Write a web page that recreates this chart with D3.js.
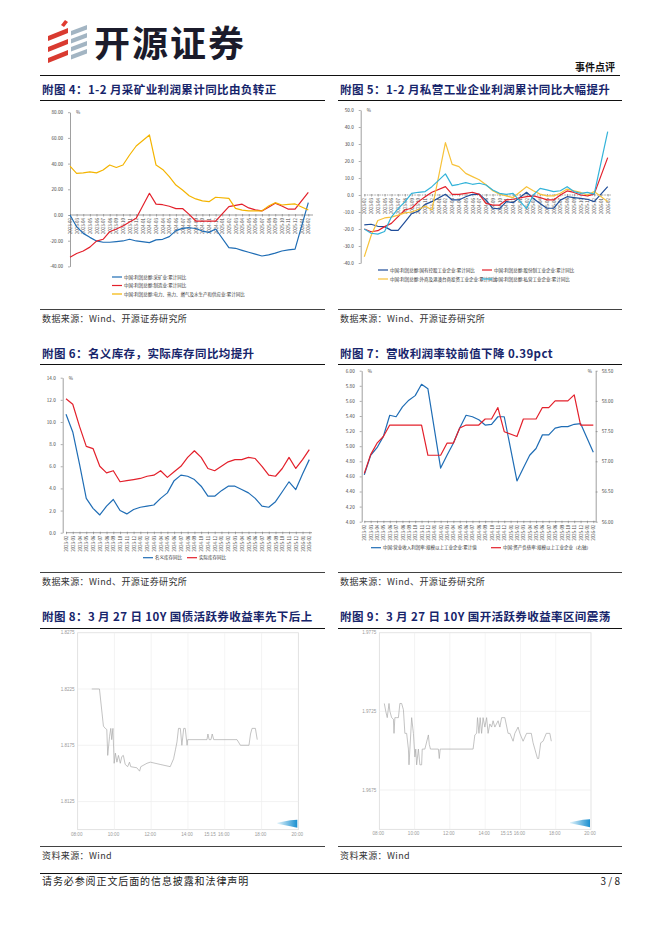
<!DOCTYPE html>
<html><head><meta charset="utf-8">
<script src="https://cdn.jsdelivr.net/npm/d3@7"></script>
<style>body{margin:0;background:#fff}svg{display:block}</style>
</head><body>
<svg id="page" width="662" height="936"></svg>
<script>
// ---------------- DATA ----------------
const months = ["2023-02","2023-03","2023-04","2023-05","2023-06","2023-07","2023-08","2023-09","2023-10","2023-11","2023-12","2024-01","2024-02","2024-03","2024-04","2024-05","2024-06","2024-07","2024-08","2024-09","2024-10","2024-11","2024-12","2025-01","2025-02","2025-03","2025-04","2025-05","2025-06","2025-07","2025-08","2025-09","2025-10","2025-11","2025-12","2026-01","2026-02"];

// Fig 4 (%), January has no data
const miningProfit = [0,-9.1,-14.3,-17.4,-20.2,-21.2,-21.2,-20.7,-20.2,-18.9,-20.2,null,-21.5,-19.4,-18.9,-16.8,-12.2,-10.4,-9.9,-10.5,-12.5,-13.5,-10.9,null,-25.4,-25.9,-27.5,-29,-30.5,-31.9,-31,-29.7,-28,-27.2,-26.5,null,9.6];
const manufProfit = [-32.9,-30,-28,-25,-20.3,-18.9,-13,-10.9,-8.6,-5.5,-2.6,null,16.9,8.5,8,6.8,5,5,0.5,-4.7,-4.7,-4.7,-4.7,null,6.5,7.5,8.4,5.5,4,3.2,6,9.1,7,4.5,4.5,null,17.6];
const utilityProfit = [38.1,32.4,32.8,33.6,32.8,35,38.9,37,38.9,46.7,53.7,null,62.3,38.9,35.5,29.8,23.3,19.4,15,12.5,11,10.4,13.8,null,13,5.2,3.8,3.2,3.2,3.2,7,9.6,7.8,8.2,8.6,null,3.9];
const fig4Ticks = [-40,-20,0,20,40,60,80];

// Fig 5 (%)
const stateProfit = [-17.6,-17.2,-18.4,-18.6,-20.8,-20.8,-16,-11,-9.4,-5.5,-3.9,null,0.4,-2.9,-2.9,-1,0.4,0.5,-3,-7.8,-8.2,-3.9,-4.5,null,1.6,-2,-5,-7.8,-7.8,-3,-1,-1.5,-2,-2.5,-3.9,null,4.9];
const jointProfit = [-20,-21.6,-21,-18.6,-16.7,-12.7,-8.8,-7.8,-3.9,-1,1.6,null,4.9,0.4,0.4,1,1.6,0.4,-4.9,-5.9,-5.9,-2.9,-2.5,null,-1,-0.5,-1.5,-2.9,-2.9,0,2.4,1.5,0,-0.5,0.5,null,22];
const foreignProfit = [-36.3,-24,-15,-13.5,-13,-11.8,-10.5,-10,-8.5,-6.5,-8.8,null,30.8,18,16.7,12.7,10.8,9,6,2.5,0.5,-0.5,-1.5,null,4.9,2.5,0.5,-0.5,-0.5,1,3.5,2.5,1.5,0,2,null,-3.9];
const privateProfit = [-20,-22.5,-23,-21.5,-13,-8,-4,1,1.6,2,4.9,null,12.4,5.5,6.3,7.3,6.3,6.9,5.9,2.9,1,0.4,1,null,-8,0,3.9,3,2,2.5,4.9,2,1,1.5,0.5,null,37.3];
const fig5Ticks = [-40,-30,-20,-10,0,10,20,30,40,50];

// Fig 6 (%)
const nominalInv = [10.7,9.1,6.2,3.1,2.2,1.6,2.4,3.0,2.0,1.7,2.1,2.3,2.4,2.5,3.1,3.6,4.7,5.2,5.1,4.8,4.2,3.3,3.3,3.8,4.2,4.2,3.9,3.6,3.1,2.4,2.3,2.8,3.7,4.6,3.9,5.3,6.6];
const realInv = [12.1,11.6,9.6,7.8,7.6,6.0,5.4,5.6,4.6,4.7,4.8,4.9,5.1,5.2,5.6,5.0,5.5,6.0,6.8,7.4,6.8,5.8,5.6,6.0,6.4,6.6,6.6,6.8,6.7,6.0,5.2,5.1,5.8,6.8,5.8,6.6,7.5];
const fig6Ticks = [0,2,4,6,8,10,12,14];

// Fig 7
const profitMargin = [4.62,4.88,4.98,5.13,5.41,5.39,5.52,5.61,5.67,5.82,5.76,null,4.71,4.88,5.04,5.24,5.41,5.39,5.35,5.28,5.29,5.39,5.39,null,4.54,4.71,4.88,4.97,5.15,5.15,5.24,5.26,5.26,5.29,5.30,null,4.92];
const debtRatio = [56.80,57.11,57.30,57.41,57.60,57.60,57.60,57.60,57.60,57.60,57.10,null,57.10,57.30,57.30,57.55,57.60,57.60,57.60,57.70,57.70,57.89,57.49,null,57.41,57.70,57.70,57.70,57.89,57.89,58.0,58.0,58.0,58.1,57.60,null,57.60];
const fig7TicksL = [4.0,4.2,4.4,4.6,4.8,5.0,5.2,5.4,5.6,5.8,6.0];
const fig7TicksR = [56.0,56.5,57.0,57.5,58.0,58.5];

// Fig 8: 10Y treasury active bond, 3/27 intraday
const tsyTime = ["08:46","09:11","09:24","09:30","09:35","09:38","09:44","09:48","09:51","09:55","09:59","10:03","10:08","10:13","10:19","10:24","10:29","10:35","10:43","10:49","10:53","11:13","11:22","11:26","11:46","11:57","12:29","13:02","13:13","13:19","13:24","13:29","13:35","13:40","13:46","13:51","13:57","13:59","15:02","15:05","15:09","15:15","15:19","15:24","16:40","16:51","17:19","17:24","17:29","17:40","17:46"];
const tsyYield = [1.8225,1.8225,1.8192,1.8190,1.8189,1.8166,1.8183,1.8190,1.8180,1.8190,1.8159,1.8168,1.8160,1.8166,1.8159,1.8165,1.8166,1.8158,1.8156,1.8160,1.8156,1.8155,1.8152,1.8156,1.8159,1.8160,1.8158,1.8156,1.8163,1.8171,1.8178,1.8190,1.8190,1.8175,1.8190,1.8190,1.8175,1.8180,1.8180,1.8185,1.8180,1.8180,1.8185,1.8180,1.8180,1.8175,1.8175,1.8185,1.8190,1.8190,1.8180];
const tsyTicks = [1.8125,1.8175,1.8225,1.8275];

// Fig 9: 10Y CDB active bond
const cdbTime = ["08:17","08:22","08:27","08:33","08:36","08:42","08:48","08:50","08:53","08:59","09:05","09:10","09:16","09:22","09:27","09:33","09:39","09:41","09:44","09:50","09:56","10:01","10:04","10:07","10:13","10:18","10:24","10:26","10:35","10:47","10:50","10:54","10:58","11:21","11:24","11:27","11:32","13:19","13:25","13:31","13:34","13:39","13:43","13:48","13:53","13:59","14:05","14:10","14:16","14:22","14:27","14:33","14:44","14:50","14:56","15:07","15:18","15:24","15:35","15:41","15:52","15:58","16:09","16:21","16:37","16:43","16:49","16:58","17:02","17:09","17:17","17:28","17:40","17:45"];
const cdbYield = [1.9730,1.9725,1.9721,1.9730,1.9725,1.9721,1.9720,1.9711,1.9721,1.9721,1.9721,1.9730,1.9730,1.9726,1.9711,1.9711,1.9701,1.9691,1.9701,1.9721,1.9711,1.9696,1.9701,1.9691,1.9701,1.9691,1.9691,1.9701,1.9701,1.9710,1.9704,1.9701,1.9701,1.9701,1.9695,1.9701,1.9701,1.9701,1.9710,1.9711,1.9721,1.9711,1.9721,1.9711,1.9721,1.9715,1.9721,1.9711,1.9717,1.9715,1.9719,1.9715,1.9719,1.9715,1.9721,1.9721,1.9711,1.9711,1.9706,1.9711,1.9715,1.9711,1.9706,1.9711,1.9711,1.9705,1.9701,1.9695,1.9695,1.9705,1.9706,1.9711,1.9711,1.9706];
const cdbTicks = [1.9675,1.9725,1.9775];

const timeTicks = ["08:00","10:00","12:00","14:00","15:15","16:00","18:00","20:00"];

// ---------------- DRAW ----------------
const svg = d3.select('#page');
const CJK = '"Noto Sans CJK SC","Noto Sans",sans-serif';

function hline(x1,x2,y,w,c){svg.append('line').attr('x1',x1).attr('x2',x2).attr('y1',y).attr('y2',y).attr('stroke',c||'#111').attr('stroke-width',w||1);}
function txt(x,y,s,o){o=o||{};const t=svg.append('text').attr('x',x).attr('y',y).text(s)
  .attr('font-family',o.ff||CJK).attr('font-size',o.fs||10).attr('fill',o.fill||'#222')
  .attr('font-weight',o.fw||400).attr('text-anchor',o.anchor||'start');
  if(o.ls) t.attr('letter-spacing',o.ls); return t;}

// header logo
const logo = svg.append('g');
logo.append('polygon').attr('points','61,25 65,20 68,22 64,27').attr('fill','#e03a2f');
[0,11,22].forEach(dy=>{
  logo.append('polygon').attr('points',`48,${36+dy} 68,${28+dy} 68,${33+dy} 48,${41+dy}`).attr('fill','#d93a30');
});
[0,8,16,24].forEach(dy=>{
  logo.append('polygon').attr('points',`71,${31+dy} 87,${25+dy} 87,${29.5+dy} 71,${35.5+dy}`).attr('fill','#a3b5c3');
});
txt(94,57,'开源证券',{fs:36,fw:700,fill:'#1b1b2b',ls:2});
txt(615,71,'事件点评',{fs:10,fw:700,fill:'#111',anchor:'end'});
hline(40,620,75.5,1,'#111');

// titles
const TCOL = '#17256b';
function title(x,y,s){txt(x,y,s,{fs:11.5,fw:700,fill:TCOL,ls:0.4});}
title(42,94,'附图 4：1-2 月采矿业利润累计同比由负转正');
title(340,94,'附图 5：1-2 月私营工业企业利润累计同比大幅提升');
hline(40,325,100.5,1); hline(338,622,100.5,1);
title(42,358,'附图 6：名义库存，实际库存同比均提升');
title(340,358,'附图 7：营收利润率较前值下降 0.39pct');
hline(40,325,364.5,1); hline(338,622,364.5,1);
title(42,621,'附图 8：3 月 27 日 10Y 国债活跃券收益率先下后上');
title(340,621,'附图 9：3 月 27 日 10Y 国开活跃券收益率区间震荡');
hline(40,325,628.5,1); hline(338,622,628.5,1);

// sources
function source(x,y,s){txt(x,y,s,{fs:9,fill:'#333',ls:0.4});}
hline(40,325,309.5,0.8); hline(338,622,309.5,0.8);
source(42,322,'数据来源：Wind、开源证券研究所'); source(340,322,'数据来源：Wind、开源证券研究所');
hline(40,325,572.5,0.8); hline(338,622,572.5,0.8);
source(42,585,'数据来源：Wind、开源证券研究所'); source(340,585,'数据来源：Wind、开源证券研究所');
hline(40,325,846.5,0.8); hline(338,622,846.5,0.8);
source(42,859,'资料来源：Wind'); source(340,859,'资料来源：Wind');
hline(40,622,873.5,1);
txt(42,885,'请务必参阅正文后面的信息披露和法律声明',{fs:10,fill:'#222',ls:0.9});
txt(620,885,'3 / 8',{fs:10,fill:'#222',anchor:'end'});

// -------- line chart helper --------
function styleAxis(a){
  a.attr('font-family',CJK).attr('font-size',4.6);
  a.selectAll('.domain').attr('stroke','#777').attr('stroke-width',0.7);
  a.selectAll('.tick line').attr('stroke','#777').attr('stroke-width',0.6);
  a.selectAll('.tick text').attr('fill','#444');
}
function lineChart(o){
  const g = svg.append('g');
  const x = d3.scalePoint().domain(o.cats).range(o.xRange);
  const y = d3.scaleLinear().domain(o.yDomain).range(o.yRange);
  const yR = o.yDomainR ? d3.scaleLinear().domain(o.yDomainR).range(o.yRange) : null;
  const aL = g.append('g').attr('transform',`translate(${o.yAxisX},0)`)
    .call(d3.axisLeft(y).tickValues(o.yTicks).tickFormat(d=>d.toFixed(o.dec)).tickSize(2).tickSizeOuter(0).tickPadding(5));
  styleAxis(aL);
  g.append('text').attr('x',o.yAxisX+6).attr('y',o.yRange[1]+2).text('%').attr('font-size',4.6).attr('fill','#444').attr('font-family',CJK);
  if(yR){
    const aR = g.append('g').attr('transform',`translate(${o.yAxisXR},0)`)
      .call(d3.axisRight(yR).tickValues(o.yTicksR).tickFormat(d=>d.toFixed(o.decR)).tickSize(2).tickSizeOuter(0).tickPadding(4));
    styleAxis(aR);
    g.append('text').attr('x',o.yAxisXR-8).attr('y',o.yRange[1]+2).text('%').attr('font-size',4.6).attr('fill','#444').attr('font-family',CJK);
  }
  const ay = y(o.xAxisAt);
  const aX = g.append('g').attr('transform',`translate(0,${ay})`)
    .call(d3.axisBottom(x).tickSize(2).tickSizeOuter(0));
  styleAxis(aX);
  aX.select('.domain').attr('d',`M${o.xRange[0]},0H${o.xEnd}`).attr('stroke-dasharray',o.dash||null);
  aX.selectAll('.tick line').attr('y1',-1).attr('y2',1.5);
  aX.selectAll('.tick text').attr('transform','rotate(-90)').attr('text-anchor','end')
    .attr('x',-3).attr('y',0).attr('dy','0.35em').attr('font-size',4.4);
  o.series.forEach(s=>{
    const sc = s.right ? yR : y;
    const pts = o.cats.map((c,i)=>({c,v:s.values[i]})).filter(d=>d.v!=null);
    g.append('path').datum(pts).attr('fill','none').attr('stroke',s.color).attr('stroke-width',1.2)
      .attr('stroke-linejoin','round')
      .attr('d',d3.line().x(d=>x(d.c)).y(d=>sc(d.v)));
  });
  o.legend.forEach(l=>{
    g.append('line').attr('x1',l.x).attr('x2',l.x+10).attr('y1',l.y).attr('y2',l.y).attr('stroke',l.color).attr('stroke-width',1.2);
    g.append('text').attr('x',l.x+12).attr('y',l.y+1.6).text(l.label).attr('font-size',4.5).attr('fill','#333').attr('font-family',CJK);
  });
}

const C = {blue:'#1f6db5', red:'#e3202b', gold:'#f4b400', navy:'#1f4d99', yellow:'#f7c23a', cyan:'#33b3d9'};

lineChart({cats:months, xRange:[70,308.3], xEnd:313, yDomain:[-40,80], yRange:[266.4,112.2], yAxisX:70, yTicks:fig4Ticks, dec:2, xAxisAt:0,
  series:[{values:miningProfit,color:C.blue},{values:manufProfit,color:C.red},{values:utilityProfit,color:C.gold}],
  legend:[{x:112,y:277,color:C.blue,label:'中国:利润总额:采矿业:累计同比'},
          {x:112,y:285.5,color:C.red,label:'中国:利润总额:制造业:累计同比'},
          {x:112,y:294,color:C.gold,label:'中国:利润总额:电力、热力、燃气及水生产和供应业:累计同比'}]});

lineChart({cats:months, xRange:[364.3,607.7], xEnd:611, yDomain:[-40,50], yRange:[263,110], yAxisX:360.7, yTicks:fig5Ticks, dec:1, xAxisAt:0, dash:'1.5,1',
  series:[{values:stateProfit,color:C.navy},{values:jointProfit,color:C.red},{values:foreignProfit,color:C.yellow},{values:privateProfit,color:C.cyan}],
  legend:[{x:378,y:270,color:C.navy,label:'中国:利润总额:国有控股工业企业:累计同比'},
          {x:482,y:270,color:C.red,label:'中国:利润总额:股份制工业企业:累计同比'},
          {x:378,y:279,color:C.yellow,label:'中国:利润总额:外商及港澳台商投资工业企业:累计同比'},
          {x:482,y:279,color:C.cyan,label:'中国:利润总额:私营工业企业:累计同比'}]});

lineChart({cats:months, xRange:[66,309.3], xEnd:312, yDomain:[0,14], yRange:[532.7,377.7], yAxisX:62.7, yTicks:fig6Ticks, dec:1, xAxisAt:0,
  series:[{values:nominalInv,color:C.blue},{values:realInv,color:C.red}],
  legend:[{x:143,y:557.7,color:C.blue,label:'名义库存同比'},{x:187,y:557.7,color:C.red,label:'实际库存同比'}]});

lineChart({cats:months, xRange:[364.3,593.3], xEnd:595.7, yDomain:[4,6], yRange:[521.7,370.7], yAxisX:361.7, yTicks:fig7TicksL, dec:2,
  yDomainR:[56,58.5], yTicksR:fig7TicksR, decR:2, yAxisXR:595.7, xAxisAt:4,
  series:[{values:profitMargin,color:C.blue},{values:debtRatio,color:C.red,right:true}],
  legend:[{x:371,y:547.7,color:C.blue,label:'中国:营业收入利润率:规模以上工业企业:累计值'},
          {x:491,y:547.7,color:C.red,label:'中国:资产负债率:规模以上工业企业（右轴）'}]});

// -------- intraday helper --------
const parseT = d3.timeParse('%H:%M');
function intraday(o){
  const g = svg.append('g');
  const x = d3.scaleTime().domain([parseT('08:00'),parseT('20:00')]).range([o.x0,o.x1]);
  const y = d3.scaleLinear().domain(o.yDomain).range([o.y1,o.y0]);
  g.append('rect').attr('x',o.x0).attr('y',o.y0).attr('width',o.x1-o.x0).attr('height',o.y1-o.y0)
    .attr('fill','none').attr('stroke','#d6d6d6').attr('stroke-width',0.7);
  o.ticks.forEach(t=>{
    g.append('line').attr('x1',o.x0).attr('x2',o.x1).attr('y1',y(t)).attr('y2',y(t)).attr('stroke','#ececec').attr('stroke-width',0.7);
    g.append('text').attr('x',o.x0-3).attr('y',y(t)+1.6).attr('text-anchor','end').text(t.toFixed(4))
      .attr('font-size',4.6).attr('fill','#9a9a9a').attr('font-family','"Liberation Sans",Arial,sans-serif');
  });
  ['10:00','12:00','14:00','16:00','18:00'].forEach(t=>{
    g.append('line').attr('x1',x(parseT(t))).attr('x2',x(parseT(t))).attr('y1',o.y0).attr('y2',o.y1).attr('stroke','#efefef').attr('stroke-width',0.7);
  });
  timeTicks.forEach(t=>{
    g.append('text').attr('x',x(parseT(t))-1).attr('y',o.y1+6).attr('text-anchor','middle').text(t)
      .attr('font-size',4.6).attr('fill','#9a9a9a').attr('font-family','"Liberation Sans",Arial,sans-serif');
  });
  const pts = o.times.map((t,i)=>({t:parseT(t),v:o.values[i]}));
  g.append('path').datum(pts).attr('fill','none').attr('stroke','#a9a9a9').attr('stroke-width',0.7)
    .attr('d',d3.line().x(d=>x(d.t)).y(d=>y(d.v)));
  // Wind watermark arrow
  const gid='wg'+Math.round(o.x0);
  const grad = svg.append('defs').append('linearGradient').attr('id',gid);
  grad.append('stop').attr('offset','0%').attr('stop-color','#e3f4fb');
  grad.append('stop').attr('offset','100%').attr('stop-color','#1a8fd0');
  g.append('polygon').attr('points',`${o.x1-21},${o.y1-7} ${o.x1-8},${o.y1-9.5} ${o.x1-1},${o.y1-10} ${o.x1-1},${o.y1-2} ${o.x1-8},${o.y1-3.5} ${o.x1-21},${o.y1-6}`)
    .attr('fill',`url(#${gid})`);
}
intraday({x0:77.7,x1:298.3,y0:632.7,y1:829.7,yDomain:[1.81,1.8275],ticks:tsyTicks,times:tsyTime,values:tsyYield});
intraday({x0:379.3,x1:591,y0:632.7,y1:829.3,yDomain:[1.965,1.9775],ticks:cdbTicks,times:cdbTime,values:cdbYield});
</script>
</body></html>
